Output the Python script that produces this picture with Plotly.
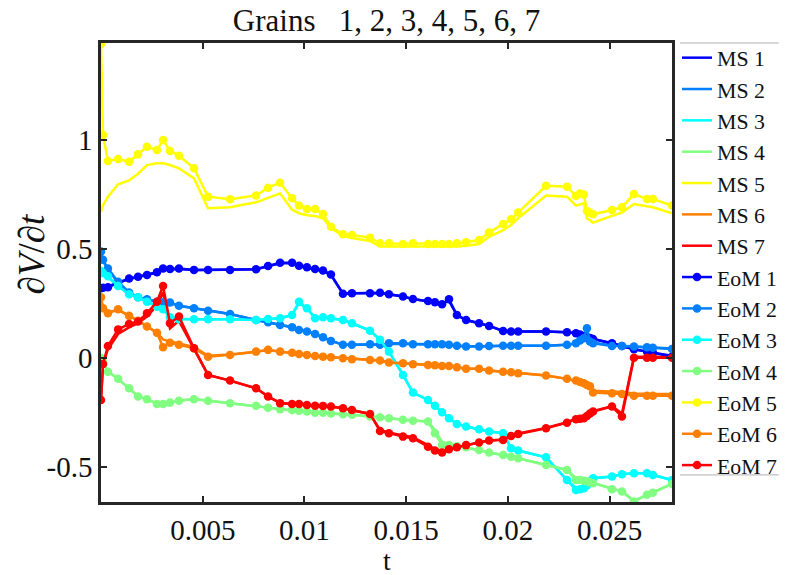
import plotly.graph_objects as go

# shared time grid (s)
t = [0, 0.0001, 0.00034, 0.00084, 0.00138, 0.00182, 0.00226, 0.00275, 0.00305, 0.00339,
     0.00383, 0.00457, 0.00526, 0.00634, 0.00762, 0.00821, 0.0088, 0.00939, 0.00973, 0.01012,
     0.01052, 0.01091, 0.0113, 0.01189, 0.01233, 0.01322, 0.01371, 0.01415, 0.01484, 0.01533,
     0.01607, 0.01641, 0.01676, 0.0171, 0.01749, 0.01794, 0.01858, 0.01907, 0.01976, 0.02015,
     0.0205, 0.02187, 0.0229, 0.02334, 0.02354, 0.02373, 0.02388, 0.02403, 0.02418, 0.02511,
     0.0256, 0.02619, 0.02683, 0.02712, 0.02806]

eom1 = [0.32, 0.322, 0.324, 0.345, 0.364, 0.373, 0.381, 0.393, 0.41, 0.408,
        0.41, 0.404, 0.404, 0.404, 0.407, 0.422, 0.437, 0.437, 0.423, 0.416,
        0.408, 0.401, 0.383, 0.294, 0.297, 0.297, 0.299, 0.292, 0.282, 0.27,
        0.261, 0.255, 0.246, 0.269, 0.197, 0.174, 0.159, 0.147, 0.124, 0.121,
        0.121, 0.121, 0.118, 0.113, 0.108, 0.101, 0.096, 0.092, 0.087, 0.067,
        0.055, 0.04, 0.029, 0.024, 0.006]
eom2 = [0.488, 0.45, 0.41, 0.35, 0.30, 0.278, 0.269, 0.258, 0.256, 0.254,
        0.239, 0.228, 0.217, 0.202, 0.174, 0.164, 0.151, 0.141, 0.128, 0.121,
        0.11, 0.095, 0.078, 0.06, 0.06, 0.063, 0.06, 0.067, 0.067, 0.063,
        0.063, 0.063, 0.063, 0.06, 0.056, 0.052, 0.052, 0.055, 0.056, 0.056,
        0.056, 0.056, 0.06, 0.067, 0.08, 0.09, 0.136, 0.075, 0.067, 0.055,
        0.055, 0.052, 0.049, 0.047, 0.041]
eom3 = [0.399, 0.39, 0.375, 0.33, 0.292, 0.278, 0.258, 0.235, 0.223, 0.187,
        0.178, 0.178, 0.178, 0.178, 0.174, 0.179, 0.182, 0.197, 0.258, 0.228,
        0.182, 0.187, 0.182, 0.174, 0.159, 0.125, 0.083, 0.029, -0.078, -0.159,
        -0.193, -0.219, -0.249, -0.277, -0.303, -0.315, -0.327, -0.338, -0.345, -0.414,
        -0.425, -0.456, -0.56, -0.606, -0.602, -0.598, -0.585, -0.568, -0.552, -0.544,
        -0.534, -0.529, -0.529, -0.537, -0.56]
eom4 = [0.0, -0.02, -0.063, -0.096, -0.139, -0.177, -0.189, -0.211, -0.211, -0.205,
        -0.196, -0.189, -0.196, -0.208, -0.219, -0.228, -0.236, -0.239, -0.242, -0.246,
        -0.251, -0.251, -0.255, -0.258, -0.261, -0.269, -0.272, -0.277, -0.284, -0.288,
        -0.292, -0.345, -0.399, -0.399, -0.405, -0.41, -0.422, -0.434, -0.445, -0.453,
        -0.46, -0.491, -0.514, -0.56, -0.56, -0.563, -0.566, -0.57, -0.575, -0.602,
        -0.613, -0.659, -0.628, -0.618, -0.578]
eom5 = [1.44, 1.023, 0.904, 0.913, 0.90, 0.934, 0.969, 0.954, 1.0, 0.95,
        0.928, 0.87, 0.74, 0.728, 0.745, 0.781, 0.804, 0.733, 0.699, 0.683,
        0.683, 0.66, 0.602, 0.567, 0.564, 0.552, 0.526, 0.526, 0.523, 0.526,
        0.523, 0.523, 0.523, 0.523, 0.526, 0.531, 0.541, 0.575, 0.615, 0.636,
        0.667, 0.79, 0.786, 0.743, 0.755, 0.75, 0.674, 0.666, 0.659, 0.679,
        0.691, 0.752, 0.729, 0.729, 0.699]
eom6 = [0.278, 0.228, 0.205, 0.223, 0.193, 0.171, 0.144, 0.116, 0.049, 0.07,
        0.06, 0.044, 0.006, 0.014, 0.029, 0.037, 0.029, 0.024, 0.018, 0.014,
        0.009, 0.006, 0.003, -0.001, -0.006, -0.009, -0.012, -0.021, -0.024, -0.029,
        -0.032, -0.034, -0.037, -0.037, -0.043, -0.05, -0.05, -0.058, -0.063, -0.066,
        -0.07, -0.081, -0.096, -0.104, -0.11, -0.116, -0.124, -0.13, -0.159, -0.162,
        -0.165, -0.173, -0.174, -0.174, -0.174]
eom7 = [-0.193, -0.028, 0.055, 0.131, 0.156, 0.167, 0.205, 0.258, 0.33, 0.159,
        0.19, 0.044, -0.078, -0.104, -0.139, -0.177, -0.208, -0.211, -0.211, -0.216,
        -0.219, -0.22, -0.223, -0.231, -0.239, -0.257, -0.335, -0.346, -0.361, -0.368,
        -0.407, -0.425, -0.434, -0.419, -0.41, -0.4, -0.388, -0.379, -0.376, -0.358,
        -0.349, -0.323, -0.297, -0.281, -0.279, -0.277, -0.266, -0.255, -0.246, -0.223,
        -0.269, 0.001, 0.001, 0.001, 0.001]

ms1 = [0.325, 0.326, 0.328, 0.345, 0.362, 0.371, 0.38, 0.392, 0.405, 0.406,
       0.408, 0.404, 0.404, 0.404, 0.407, 0.42, 0.434, 0.434, 0.421, 0.414,
       0.406, 0.399, 0.38, 0.296, 0.297, 0.297, 0.297, 0.292, 0.282, 0.27,
       0.261, 0.255, 0.248, 0.262, 0.197, 0.174, 0.159, 0.147, 0.124, 0.121,
       0.121, 0.121, 0.118, 0.113, 0.108, 0.101, 0.096, 0.092, 0.087, 0.067,
       0.055, 0.04, 0.029, 0.024, 0.01]
ms2 = [0.48, 0.445, 0.405, 0.345, 0.30, 0.278, 0.269, 0.258, 0.256, 0.252,
       0.239, 0.228, 0.217, 0.202, 0.174, 0.164, 0.151, 0.141, 0.128, 0.121,
       0.11, 0.095, 0.078, 0.062, 0.06, 0.063, 0.06, 0.065, 0.065, 0.063,
       0.063, 0.063, 0.063, 0.06, 0.056, 0.054, 0.054, 0.055, 0.056, 0.056,
       0.056, 0.056, 0.06, 0.067, 0.08, 0.1, 0.115, 0.08, 0.07, 0.058,
       0.055, 0.052, 0.049, 0.047, 0.043]
ms3 = [0.40, 0.39, 0.37, 0.33, 0.292, 0.278, 0.258, 0.235, 0.223, 0.19,
       0.18, 0.178, 0.178, 0.178, 0.174, 0.179, 0.182, 0.197, 0.25, 0.228,
       0.185, 0.187, 0.182, 0.174, 0.159, 0.125, 0.083, 0.029, -0.078, -0.159,
       -0.193, -0.219, -0.249, -0.277, -0.303, -0.315, -0.327, -0.338, -0.345, -0.414,
       -0.425, -0.456, -0.56, -0.596, -0.596, -0.592, -0.58, -0.566, -0.552, -0.544,
       -0.534, -0.529, -0.529, -0.537, -0.56]
ms4 = [0.0, -0.02, -0.06, -0.096, -0.139, -0.175, -0.189, -0.209, -0.209, -0.205,
       -0.196, -0.189, -0.196, -0.208, -0.219, -0.228, -0.236, -0.239, -0.242, -0.246,
       -0.251, -0.251, -0.255, -0.258, -0.261, -0.269, -0.272, -0.277, -0.284, -0.288,
       -0.292, -0.33, -0.385, -0.395, -0.403, -0.41, -0.422, -0.434, -0.445, -0.453,
       -0.46, -0.491, -0.514, -0.552, -0.556, -0.56, -0.563, -0.567, -0.572, -0.6,
       -0.611, -0.655, -0.628, -0.618, -0.578]
ms5 = [0.671, 0.70, 0.74, 0.797, 0.815, 0.845, 0.885, 0.893, 0.893, 0.885,
       0.87, 0.824, 0.687, 0.691, 0.714, 0.735, 0.755, 0.68, 0.664, 0.655,
       0.651, 0.641, 0.596, 0.56, 0.55, 0.537, 0.511, 0.511, 0.511, 0.511,
       0.511, 0.511, 0.511, 0.511, 0.511, 0.515, 0.523, 0.556, 0.586, 0.61,
       0.641, 0.745, 0.74, 0.699, 0.705, 0.71, 0.641, 0.63, 0.621, 0.652,
       0.667, 0.706, 0.695, 0.691, 0.664]
ms6 = [0.27, 0.228, 0.21, 0.22, 0.193, 0.171, 0.144, 0.116, 0.085, 0.075,
       0.066, 0.05, 0.01, 0.016, 0.029, 0.035, 0.029, 0.024, 0.018, 0.014,
       0.009, 0.006, 0.003, -0.001, -0.006, -0.009, -0.012, -0.021, -0.024, -0.029,
       -0.032, -0.034, -0.037, -0.037, -0.043, -0.05, -0.05, -0.058, -0.063, -0.066,
       -0.07, -0.081, -0.096, -0.104, -0.11, -0.116, -0.124, -0.13, -0.15, -0.153,
       -0.156, -0.163, -0.165, -0.165, -0.165]
ms7 = [-0.19, -0.03, 0.04, 0.11, 0.14, 0.16, 0.19, 0.24, 0.30, 0.135,
       0.17, 0.044, -0.078, -0.104, -0.139, -0.177, -0.205, -0.211, -0.211, -0.216,
       -0.219, -0.22, -0.223, -0.231, -0.239, -0.257, -0.33, -0.342, -0.356, -0.364,
       -0.4, -0.418, -0.43, -0.419, -0.41, -0.4, -0.388, -0.379, -0.374, -0.356,
       -0.347, -0.321, -0.295, -0.279, -0.277, -0.275, -0.264, -0.253, -0.244, -0.221,
       -0.255, 0.005, 0.005, 0.005, 0.005]

colors = ["#0000ff", "#0080ff", "#00ffff", "#80ff80", "#ffff00", "#ff8000", "#ff0000"]
ms_series = [ms1, ms2, ms3, ms4, ms5, ms6, ms7]
eom_series = [eom1, eom2, eom3, eom4, eom5, eom6, eom7]

x_ticks = [0.005, 0.01, 0.015, 0.02, 0.025]
x_ticktext = ["0.005", "0.01", "0.015", "0.02", "0.025"]
y_ticks = [-0.5, 0, 0.5, 1]
y_ticktext = ["-0.5", "0", "0.5", "1"]

FONT = "Liberation Serif"

fig = go.Figure()
for i, (vals, c) in enumerate(zip(ms_series, colors)):
    fig.add_trace(go.Scatter(x=t, y=vals, mode="lines", name=f"MS {i+1}",
                             line=dict(color=c, width=2.5)))
for i, (vals, c) in enumerate(zip(eom_series, colors)):
    fig.add_trace(go.Scatter(x=t, y=vals, mode="lines+markers", name=f"EoM {i+1}",
                             line=dict(color=c, width=2.5),
                             marker=dict(color=c, size=8.5)))

axis_common = dict(showline=True, linecolor="#262626", linewidth=2.5, mirror="allticks",
                   ticks="inside", ticklen=6, tickwidth=2, tickcolor="#262626",
                   showgrid=False, zeroline=False, automargin=False,
                   tickfont=dict(family=FONT, size=29, color="#111"))

fig.update_layout(
    width=785, height=575,
    margin=dict(l=101, r=113, t=43, b=73, autoexpand=False),
    plot_bgcolor="white", paper_bgcolor="white",
    font=dict(family=FONT, color="#111"),
    title=dict(text="Grains   1, 2, 3, 4, 5, 6, 7", x=0.5, xref="paper", xanchor="center",
               y=1 - 20 / 575, yref="container", yanchor="middle",
               font=dict(family=FONT, size=31, color="#111")),
    xaxis=dict(range=[0, 0.02806], tickvals=x_ticks, ticktext=x_ticktext, **axis_common),
    yaxis=dict(range=[-0.661, 1.445], tickvals=y_ticks, ticktext=y_ticktext, **axis_common),
    legend=dict(xref="container", x=677 / 785, xanchor="left",
                yref="container", y=1 - 37 / 575, yanchor="top", maxheight=540,
                font=dict(family=FONT, size=21.8, color="#111"),
                bgcolor="rgba(0,0,0,0)", itemwidth=30, tracegroupgap=0),
    showlegend=True,
)

fig.add_annotation(text="t", xref="paper", yref="paper", x=0.5, y=-0.128,
                   showarrow=False, font=dict(family=FONT, size=28, color="#111"),
                   xanchor="center", yanchor="middle")
fig.add_annotation(text="<i>∂V</i>/<i>∂t</i>", xref="paper", yref="paper", x=-0.122, y=0.54,
                   showarrow=False, textangle=-90, font=dict(family=FONT, size=37, color="#111"),
                   xanchor="center", yanchor="middle")

# legend frame lines (top and bottom)
for yy in [1.0, 0.059]:
    fig.add_shape(type="line", xref="paper", yref="paper", x0=1.014, x1=1.187, y0=yy, y1=yy,
                  line=dict(color="#b0b0b0", width=1))

fig.write_html("out.html")
